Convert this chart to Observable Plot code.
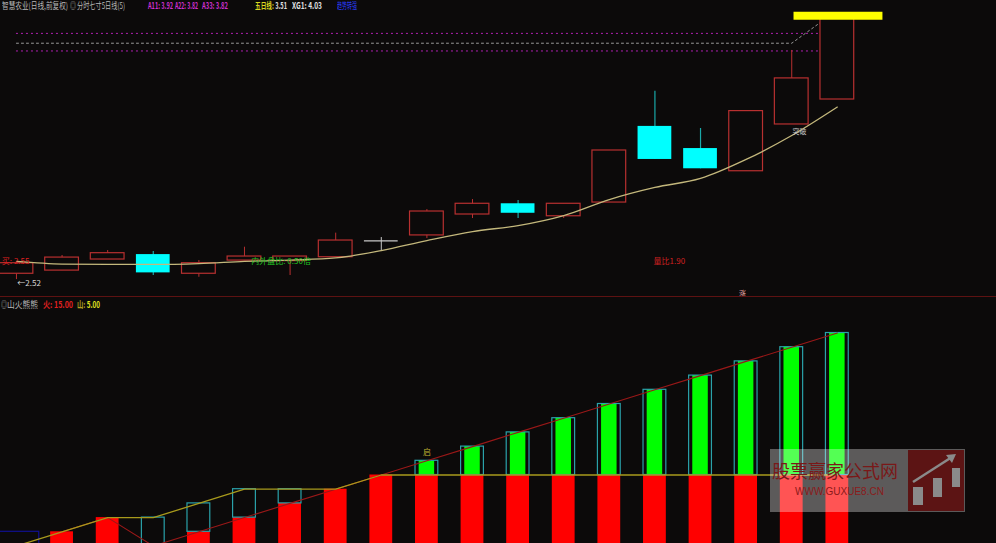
<!DOCTYPE html>
<html><head><meta charset="utf-8">
<script src="https://cdn.jsdelivr.net/npm/d3@7"></script>
<script src="https://cdn.jsdelivr.net/npm/@observablehq/plot@0.6"></script>
<style>
html,body{margin:0;padding:0;background:#0c0a0a;overflow:hidden;width:996px;height:543px;}
#wrap{position:relative;width:996px;height:543px;font-family:"Noto Sans CJK SC","Noto Sans",sans-serif;overflow:hidden;}
.t{position:absolute;font-size:9px;white-space:nowrap;line-height:11px;transform-origin:0 50%;}
.b{font-weight:bold;}
#top{position:absolute;left:0;top:0;width:996px;height:297px;overflow:hidden;border-bottom:1px solid #5e1212;box-sizing:border-box;}
#bot{position:absolute;left:0;top:297px;width:996px;height:246px;overflow:hidden;}
#wm{position:absolute;left:770px;top:449px;width:195px;height:63px;background:rgba(255,255,255,0.33);}
</style></head><body><div id="wrap">
<div id="top"></div><div id="bot"></div>
<div class="t" data-w="66" style="left:2px;top:0px;color:#b8b8b8">智慧农业(日线,前复权)</div>
<div class="t" data-w="6" style="left:70px;top:0px;color:#b8b8b8">◎</div>
<div class="t" data-w="48" style="left:77px;top:0px;color:#b8b8b8">分时七寸5日线(5)</div>
<div class="t b" data-w="25" style="left:148px;top:0px;color:#d030d0">A11: 3.92</div>
<div class="t b" data-w="23" style="left:175px;top:0px;color:#d030d0">A22: 3.82</div>
<div class="t b" data-w="26" style="left:202px;top:0px;color:#d030d0">A33: 3.82</div>
<div class="t b" data-w="32" style="left:255px;top:0px;color:#d8d820">五日线: <span style="color:#e0e0e0">3.51</span></div>
<div class="t b" data-w="30" style="left:292px;top:0px;color:#e0e0e0">XG1: 4.03</div>
<div class="t" data-w="20" style="left:337px;top:0px;color:#2a3cff">趋势转强</div>
<div class="t" data-w="6" style="left:1px;top:299px;color:#b8b8b8">◎</div>
<div class="t" data-w="31" style="left:7px;top:299px;color:#b8b8b8">山火熊熊</div>
<div class="t b" data-w="30" style="left:43px;top:299px;color:#e02020">火: 15.00</div>
<div class="t b" data-w="23" style="left:77px;top:299px;color:#b0a020">山: <span style="color:#e0e020">5.00</span></div>
<div id="wm">
  <div style="position:absolute;left:2px;top:11px;font-size:18px;line-height:20px;color:#7a1818;">股票赢家公式网</div>
  <div style="position:absolute;left:25px;top:37px;font-size:10px;line-height:11px;color:#8b1a1a;font-family:'Liberation Sans',sans-serif;">WWW.GUXUE8.CN</div>
  <svg style="position:absolute;left:138px;top:1px" width="56" height="61">
    <rect x="0" y="0" width="56" height="61" fill="#5c1414"/>
    <rect x="5" y="37" width="10" height="18" fill="#8a8a8a"/>
    <rect x="25" y="28" width="9" height="19" fill="#8a8a8a"/>
    <rect x="44" y="18" width="8" height="19" fill="#8a8a8a"/>
    <line x1="5" y1="32" x2="44" y2="7" stroke="#8a8a8a" stroke-width="2.5"/>
    <path d="M38,5 L48,4 L44,13 Z" fill="#8a8a8a"/>
  </svg>
</div>
</div>
<script>
// ---- top panel data (price) ----
const idx = d3.range(19);
const openP  = [2.553,2.571,2.634,2.662,2.553,2.628,2.625,2.647,2.740,2.771,2.890,2.951,2.880,2.958,3.391,3.265,3.136,3.402,3.544];
const closeP = [2.613,2.645,2.670,2.558,2.613,2.651,2.651,2.742,2.740,2.907,2.951,2.897,2.951,3.254,3.203,3.150,3.478,3.664,4.005];
const highP  = [2.613,2.657,2.685,2.680,2.628,2.704,2.651,2.784,2.759,2.918,2.975,2.970,2.951,3.254,3.591,3.379,3.478,3.823,4.005];
const lowP   = [2.520,2.571,2.634,2.543,2.533,2.628,2.543,2.647,2.685,2.753,2.867,2.867,2.867,2.958,3.203,3.150,3.136,3.402,3.544];
const ma5    = [2.623,2.608,2.606,2.606,2.611,2.623,2.631,2.643,2.685,2.742,2.793,2.827,2.884,2.975,3.044,3.095,3.203,3.339,3.501];
const magentaLevels = [3.92, 3.82];
const levelSpan = [0, 18];
const grayDashX = [0, 17, 17.67];
const grayDashY = [3.864, 3.864, 3.99];
const xg1Level = [4.02];
const xg1Span = [17.05, 19];
const startLabels = [
  {x:-0.32, p:2.623, t:"买: 2.55", c:"#e02020"},
  {x:0.02, p:2.497, t:"←2.52", c:"#d8d8d8"},
  {x:5.15, p:2.623, t:"内外盘比: 0.50倍", c:"#22c022"},
  {x:13.97, p:2.623, t:"量比1.90", c:"#d02020"}
];
const midLabels = [
  {x:15.92, p:2.441, t:"涨", c:"#f0b0b0"},
  {x:17.17, p:3.358, t:"突破", c:"#c4c4c4"}
];
// ---- bottom panel data ----
const fire     = [null,1,2,0,1,2,3,4,5,6,7,8,9,10,11,12,13,14,15];
const mountain = [0,1,2,2,3,4,4,4,5,5,5,5,5,5,5,5,5,5,5];
const blueBox = [{x1:-0.4, x2:0.5, v:1}];
const botLabels = [{i:9, v:6.6, t:"启"}];

const xDom = [-0.35, 21.49];
const font = "Noto Sans CJK SC";
const candles = idx.map(i => ({i, o:openP[i], c:closeP[i], h:highP[i], l:lowP[i]}));
const up = candles.filter(d => d.c > d.o);
const down = candles.filter(d => d.c < d.o);
const doji = candles.filter(d => d.c === d.o);
const hw = 0.37;

const topPlot = Plot.plot({
  width: 996, height: 297, margin: 0,
  style: {background: "transparent", fontFamily: font},
  x: {domain: xDom, axis: null},
  y: {domain: [2.418, 4.107], axis: null},
  marks: [
    Plot.ruleY(magentaLevels, {y: d => d, x1: () => levelSpan[0], x2: () => levelSpan[1], stroke: "#b020b0", strokeDasharray: "2,3", strokeWidth: 1}),
    Plot.line(grayDashX.map((x, k) => ({x, y: grayDashY[k]})), {x: "x", y: "y", stroke: "#9a9a9a", strokeDasharray: "2,3", strokeWidth: 1}),
    Plot.ruleX(up, {x: "i", y1: "l", y2: "h", stroke: "#b83030", strokeWidth: 1}),
    Plot.ruleX(down, {x: "i", y1: "l", y2: "h", stroke: "#1aa8a8", strokeWidth: 1.2}),
    Plot.ruleX(doji, {x: "i", y1: "l", y2: "h", stroke: "#c8c8c8", strokeWidth: 1}),
    Plot.rect(up, {x1: d => d.i - hw, x2: d => d.i + hw, y1: "o", y2: "c", fill: "#0c0a0a", stroke: "#b83030", strokeWidth: 1.2}),
    Plot.rect(down, {x1: d => d.i - hw, x2: d => d.i + hw, y1: "o", y2: "c", fill: "#00ffff"}),
    Plot.ruleY(doji, {y: "c", x1: d => d.i - hw, x2: d => d.i + hw, stroke: "#c8c8c8", strokeWidth: 1.2}),
    Plot.line(idx, {x: i => i, y: i => ma5[i], stroke: "#c4b87c", strokeWidth: 1.3, curve: "monotone-x"}),
    Plot.ruleY(xg1Level, {y: d => d, x1: () => xg1Span[0], x2: () => xg1Span[1], stroke: "#ffff00", strokeWidth: 8}),
    Plot.text(startLabels, {x: "x", y: "p", text: "t", fill: "c", textAnchor: "start", fontSize: 8, fontFamily: font}),
    Plot.text(midLabels, {x: "x", y: "p", text: "t", fill: "c", textAnchor: "middle", fontSize: 7, fontFamily: font})
  ]
});
document.getElementById("top").appendChild(topPlot);

const bars = idx.filter(i => fire[i] != null).map(i => ({
  i, f: fire[i], m: mountain[i], lo: Math.min(fire[i], mountain[i]), hi: Math.max(fire[i], mountain[i])
}));
const bw = 0.25, gw = 0.17;
const botPlot = Plot.plot({
  width: 996, height: 246, margin: 0,
  style: {background: "transparent", fontFamily: font},
  x: {domain: xDom, axis: null},
  y: {domain: [0.176, 17.5], axis: null},
  marks: [
    Plot.rect(blueBox, {x1: "x1", x2: "x2", y1: () => 0, y2: "v", fill: "none", stroke: "#101090", strokeWidth: 1.2}),
    Plot.rect(bars.filter(d => d.lo > 0), {x1: d => d.i - bw, x2: d => d.i + bw, y1: () => 0, y2: "lo", fill: "#ff0000"}),
    Plot.rect(bars.filter(d => d.f > d.m), {x1: d => d.i - gw, x2: d => d.i + gw, y1: "m", y2: "f", fill: "#00ff00"}),
    Plot.rect(bars.filter(d => d.f !== d.m), {x1: d => d.i - bw, x2: d => d.i + bw, y1: "lo", y2: "hi", fill: "none", stroke: "#2aa2aa", strokeWidth: 1.2}),
    Plot.line(bars, {x: "i", y: "f", stroke: "#9a1818", strokeWidth: 1.1}),
    Plot.line(idx, {x: i => i, y: i => mountain[i], stroke: "#a89a1c", strokeWidth: 1.3}),
    Plot.text(botLabels, {x: "i", y: "v", text: "t", fill: "#c0b030", fontSize: 8, fontFamily: font})
  ]
});
document.getElementById("bot").appendChild(botPlot);

// fit header texts to their measured widths
document.querySelectorAll(".t[data-w]").forEach(el => {
  const w = +el.dataset.w;
  const a = el.getBoundingClientRect().width;
  if (a > 0) el.style.transform = `scaleX(${(w / a).toFixed(3)})`;
});
</script>
</body></html>
